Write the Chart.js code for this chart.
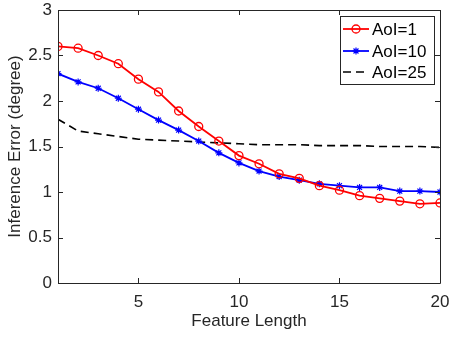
<!DOCTYPE html>
<html>
<head>
<meta charset="utf-8">
<script src="https://cdn.jsdelivr.net/npm/chart.js@4/dist/chart.umd.min.js"></script>
<style>
html,body{margin:0;padding:0;background:#fff;}
#wrap{width:450px;height:339px;position:relative;}
</style>
</head>
<body>
<div id="wrap"><canvas id="c" width="450" height="339"></canvas></div>
<script>
const featureLength = [1,2,3,4,5,6,7,8,9,10,11,12,13,14,15,16,17,18,19,20];
const aoi1  = [2.60,2.58,2.50,2.41,2.24,2.10,1.89,1.72,1.56,1.40,1.31,1.20,1.15,1.07,1.02,0.96,0.93,0.90,0.87,0.88];
const aoi10 = [2.30,2.21,2.14,2.03,1.91,1.79,1.68,1.56,1.43,1.32,1.23,1.17,1.13,1.09,1.07,1.05,1.05,1.01,1.01,1.00];
const aoi25 = [1.80,1.67,1.64,1.61,1.58,1.57,1.56,1.55,1.54,1.53,1.52,1.52,1.52,1.51,1.51,1.51,1.50,1.50,1.50,1.49];
const seriesLabels = ['AoI=1','AoI=10','AoI=25'];
const xTicks = [5,10,15,20];
const yTicks = [0,0.5,1,1.5,2,2.5,3];
const xTitle = 'Feature Length';
const yTitle = 'Inference Error (degree)';

const FONT = "'Liberation Sans', Arial, Helvetica, sans-serif";
const FS = 17;
const AX = '#262626';
const pts = arr => featureLength.map((x,i)=>({x:x,y:arr[i]}));

const boxPlugin = {
  id:'boxPlugin',
  afterDraw(chart){
    const {ctx, chartArea:a, scales:{x,y}} = chart;
    ctx.save();
    ctx.strokeStyle = AX; ctx.lineWidth = 1;
    ctx.beginPath();
    ctx.rect(Math.round(a.left)+0.5, Math.round(a.top)+0.5, Math.round(a.right-a.left), Math.round(a.bottom-a.top));
    ctx.stroke();
    const L = 5;
    ctx.beginPath();
    xTicks.forEach(v=>{
      const px = Math.round(x.getPixelForValue(v))+0.5;
      ctx.moveTo(px,a.bottom); ctx.lineTo(px,a.bottom-L);
      ctx.moveTo(px,a.top); ctx.lineTo(px,a.top+L);
    });
    yTicks.forEach(v=>{
      const py = Math.round(y.getPixelForValue(v))+0.5;
      ctx.moveTo(a.left,py); ctx.lineTo(a.left+L,py);
      ctx.moveTo(a.right,py); ctx.lineTo(a.right-L,py);
    });
    ctx.stroke();
    // legend
    const bx=340.5, by=16.5, bw=94, bh=68;
    ctx.fillStyle='#fff';
    ctx.fillRect(bx,by,bw,bh);
    ctx.strokeStyle=AX; ctx.lineWidth=1;
    ctx.strokeRect(bx,by,bw,bh);
    const rows=[29,51,72];
    chart.data.datasets.forEach((ds,i)=>{
      const yy=rows[i];
      ctx.save();
      ctx.strokeStyle=ds.borderColor; ctx.lineWidth=ds.borderWidth;
      ctx.setLineDash(ds.borderDash||[]);
      ctx.beginPath(); ctx.moveTo(343,yy); ctx.lineTo(369,yy); ctx.stroke();
      ctx.setLineDash([]);
      if(ds.pointRadius>0){
        ctx.fillStyle=ds.pointBackgroundColor;
        ctx.strokeStyle=ds.pointBorderColor;
        ctx.lineWidth=ds.pointBorderWidth;
        Chart.helpers.drawPoint(ctx,{pointStyle:ds.pointStyle,radius:ds.pointRadius,borderWidth:ds.pointBorderWidth,rotation:0},356,yy);
      }
      ctx.restore();
      ctx.fillStyle='#000';
      ctx.font=FS+'px '+FONT;
      ctx.textBaseline='middle';
      ctx.textAlign='left';
      ctx.fillText(ds.label,372,yy+1);
    });
    ctx.restore();
  }
};

new Chart(document.getElementById('c'),{
  type:'line',
  data:{datasets:[
    {label:seriesLabels[0],data:pts(aoi1),borderColor:'#ff0000',borderWidth:1.8,pointStyle:'circle',pointRadius:4,pointBorderWidth:1.3,pointBorderColor:'#ff0000',pointBackgroundColor:'rgba(0,0,0,0)',fill:false,tension:0},
    {label:seriesLabels[1],data:pts(aoi10),borderColor:'#0000ff',borderWidth:1.8,pointStyle:'star',pointRadius:3.5,pointBorderWidth:1.2,pointBorderColor:'#0000ff',pointBackgroundColor:'#0000ff',fill:false,tension:0},
    {label:seriesLabels[2],data:pts(aoi25),borderColor:'#000000',borderWidth:1.6,borderDash:[8,5],pointRadius:0,fill:false,tension:0}
  ]},
  options:{
    responsive:false,animation:false,
    layout:{padding:{top:10,right:10,left:0,bottom:0}},
    plugins:{legend:{display:false},tooltip:{enabled:false}},
    scales:{
      x:{type:'linear',min:1,max:20,
        afterBuildTicks:s=>{s.ticks=xTicks.map(v=>({value:v}));},
        afterFit:s=>{s.height=56;s.paddingLeft=0;s.paddingRight=0;},
        grid:{display:false,drawTicks:false},border:{display:false},
        ticks:{color:AX,font:{family:FONT,size:FS},padding:9,maxRotation:0,autoSkip:false,callback:v=>String(v)},
        title:{display:true,text:xTitle,color:AX,font:{family:FONT,size:FS},padding:{top:7,bottom:7}}
      },
      y:{type:'linear',min:0,max:3,
        afterBuildTicks:s=>{s.ticks=yTicks.map(v=>({value:v}));},
        afterFit:s=>{s.width=58;s.paddingTop=0;s.paddingBottom=0;},
        grid:{display:false,drawTicks:false},border:{display:false},
        ticks:{color:AX,font:{family:FONT,size:FS},padding:6,autoSkip:false,callback:v=>String(v)},
        title:{display:true,text:yTitle,color:AX,font:{family:FONT,size:FS},padding:{top:5,bottom:5}}
      }
    }
  },
  plugins:[boxPlugin]
});
</script>
</body>
</html>
